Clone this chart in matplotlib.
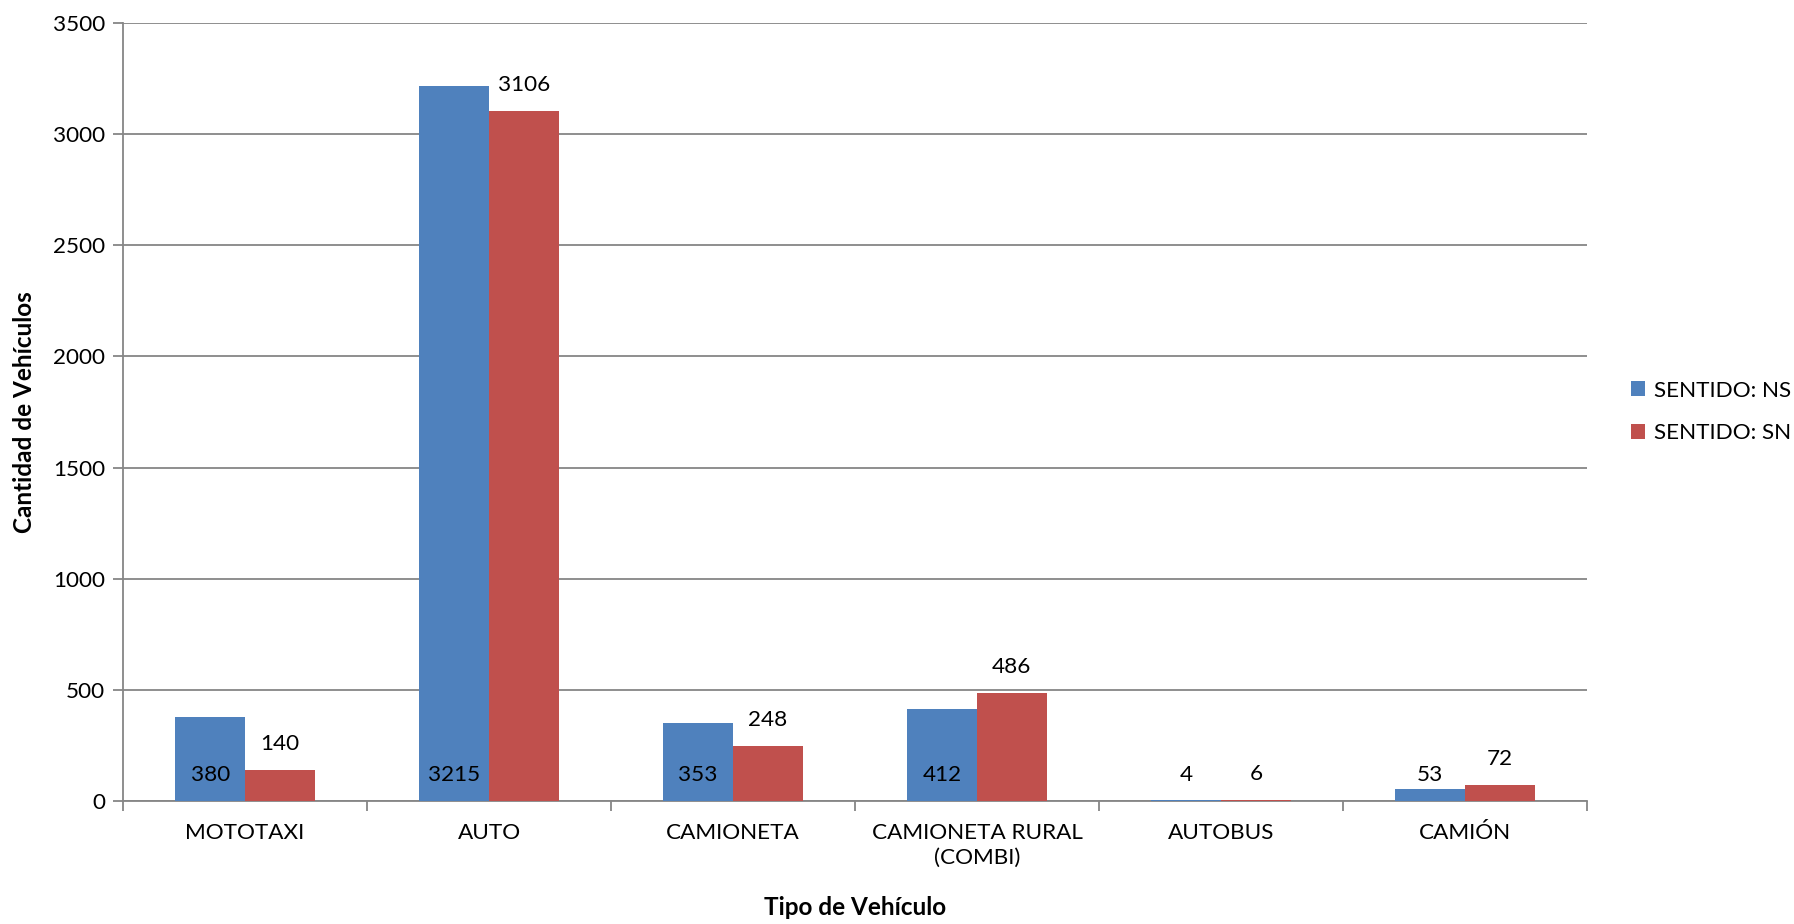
import numpy as np
import matplotlib.pyplot as plt
from matplotlib.ticker import FixedLocator, MultipleLocator

plt.rcParams["font.family"] = ["Lato", "DejaVu Sans"]

tipos = ["MOTOTAXI", "AUTO", "CAMIONETA", "CAMIONETA RURAL\n(COMBI)", "AUTOBUS", "CAMIÓN"]
sentido_ns = [380, 3215, 353, 412, 4, 53]
sentido_sn = [140, 3106, 248, 486, 6, 72]

azul = "#4F81BD"
rojo = "#C0504D"
gris = "#868686"

fig = plt.figure(figsize=(17.94, 9.24), dpi=100)
ax = fig.add_axes([123 / 1794, 1 - 801 / 924, (1587 - 123) / 1794, (801 - 23) / 924])

x = np.arange(len(tipos))
ancho = 1 / 3.5  # gap width 150%
b1 = ax.bar(x - ancho / 2, sentido_ns, ancho, color=azul, label="SENTIDO: NS", zorder=3)
b2 = ax.bar(x + ancho / 2, sentido_sn, ancho, color=rojo, label="SENTIDO: SN", zorder=3)

fs = 16.2
fs_tit = 17.5
# etiquetas NS en la base de la barra, SN sobre la barra
for rect, v in zip(b1, sentido_ns):
    ax.annotate(str(v), (rect.get_x() + rect.get_width() / 2, 0), xytext=(0, 18.5),
                textcoords="offset points", ha="center", va="center", fontsize=fs, zorder=4)
for rect, v in zip(b2, sentido_sn):
    ax.annotate(str(v), (rect.get_x() + rect.get_width() / 2, v), xytext=(0, 18.5),
                textcoords="offset points", ha="center", va="center", fontsize=fs, zorder=4)

ax.set_xlim(-0.5, len(tipos) - 0.5)
ax.set_ylim(0, 3500)
ax.yaxis.set_major_locator(MultipleLocator(500))
ax.grid(axis="y", color=gris, linewidth=1.3, zorder=0)

ax.set_xticks(x)
ax.set_xticklabels(tipos, fontsize=fs, linespacing=1.3)
ax.xaxis.set_minor_locator(FixedLocator(np.arange(-0.5, len(tipos), 1)))
ax.tick_params(axis="x", which="major", length=0, pad=16)
ax.tick_params(axis="x", which="minor", length=7, width=1.3, color=gris)
ax.tick_params(axis="y", length=7, width=1.3, color=gris, labelsize=fs, pad=6)

for lado in ["top", "right"]:
    ax.spines[lado].set_visible(False)
for lado in ["left", "bottom"]:
    ax.spines[lado].set_color(gris)
    ax.spines[lado].set_linewidth(1.3)

ax.set_ylabel("Cantidad de Vehículos", fontsize=fs_tit, fontweight="bold", labelpad=12)
ax.set_xlabel("Tipo de Vehículo", fontsize=fs_tit, fontweight="bold", labelpad=20)

ax.legend(loc="center left", bbox_to_anchor=(1.016, 0.5), frameon=False, fontsize=fs,
          handlelength=0.65, handleheight=0.65, handletextpad=0.4, labelspacing=1.0)

fig.savefig("out.png", dpi=100)
